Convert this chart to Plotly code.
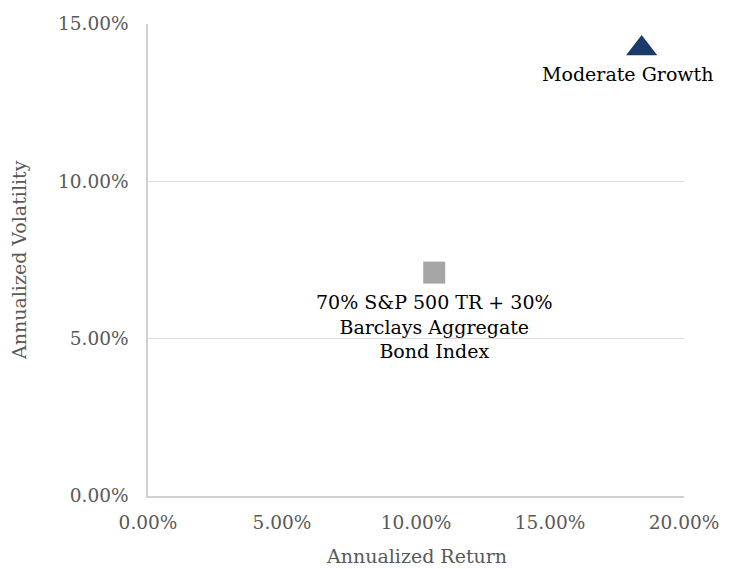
import plotly.graph_objects as go

# Data (percent values)
names = ["Moderate Growth", "70% S&P 500 TR + 30%<br>Barclays Aggregate<br>Bond Index"]
returns = [18.42, 10.68]
volatility = [14.22, 7.10]
symbols = ["triangle-up", "square"]
colors = ["#1B3A6B", "#A5A5A5"]
sizes = [27, 22]

x_ticks = [0, 5, 10, 15, 20]
y_ticks = [0, 5, 10, 15]
x_tick_labels = ["0.00%", "5.00%", "10.00%", "15.00%", "20.00%"]
y_tick_labels = ["0.00%", "5.00%", "10.00%", "15.00%"]
x_title = "Annualized Return"
y_title = "Annualized Volatility"

FONT = "DejaVu Serif"

fig = go.Figure()
for i in range(len(names)):
    fig.add_trace(go.Scatter(
        x=[returns[i]], y=[volatility[i]], mode="markers",
        marker=dict(symbol=symbols[i], color=colors[i], size=sizes[i], line=dict(width=0)),
        cliponaxis=False, showlegend=False, hoverinfo="skip"))

# labels below markers
label_shift = [(-14, -25), (0, -54)]
for i in range(len(names)):
    fig.add_annotation(x=returns[i], y=volatility[i], text=names[i], showarrow=False,
                       xshift=label_shift[i][0], yshift=label_shift[i][1],
                       yanchor="middle", xanchor="center", align="center",
                       font=dict(family=FONT, size=19, color="#000000"))

# axis titles
fig.add_annotation(xref="paper", yref="paper", x=0.5, y=0, text=x_title, showarrow=False,
                   xanchor="center", yanchor="middle", yshift=-60,
                   font=dict(family=FONT, size=19, color="#595959"))
fig.add_annotation(xref="paper", yref="paper", x=0, y=0.5, text=y_title, showarrow=False,
                   xanchor="center", yanchor="middle", xshift=-129, textangle=-90,
                   font=dict(family=FONT, size=19, color="#595959"))

fig.update_layout(
    width=713, height=561,
    margin=dict(l=140, r=37, t=16, b=73),
    paper_bgcolor="white", plot_bgcolor="white",
    font=dict(family=FONT, size=18.5, color="#595959"),
    xaxis=dict(range=[0, 20], tickvals=x_ticks, ticktext=x_tick_labels, automargin=False,
               showgrid=False, zeroline=False, showline=True, linecolor="#D0D0D0", linewidth=1.5,
               ticks="", ticklabelstandoff=9, ticklabeloverflow="allow",
               tickfont=dict(family=FONT, size=18.5, color="#595959")),
    yaxis=dict(range=[0, 15], tickvals=y_ticks, ticktext=y_tick_labels, automargin=False,
               showgrid=True, gridcolor="#D9D9D9", gridwidth=1, zeroline=False,
               showline=True, linecolor="#D0D0D0", linewidth=1.5,
               ticks="", ticklabelstandoff=14, tickfont=dict(family=FONT, size=18.5, color="#595959")),
)

fig.write_html("out.html")
